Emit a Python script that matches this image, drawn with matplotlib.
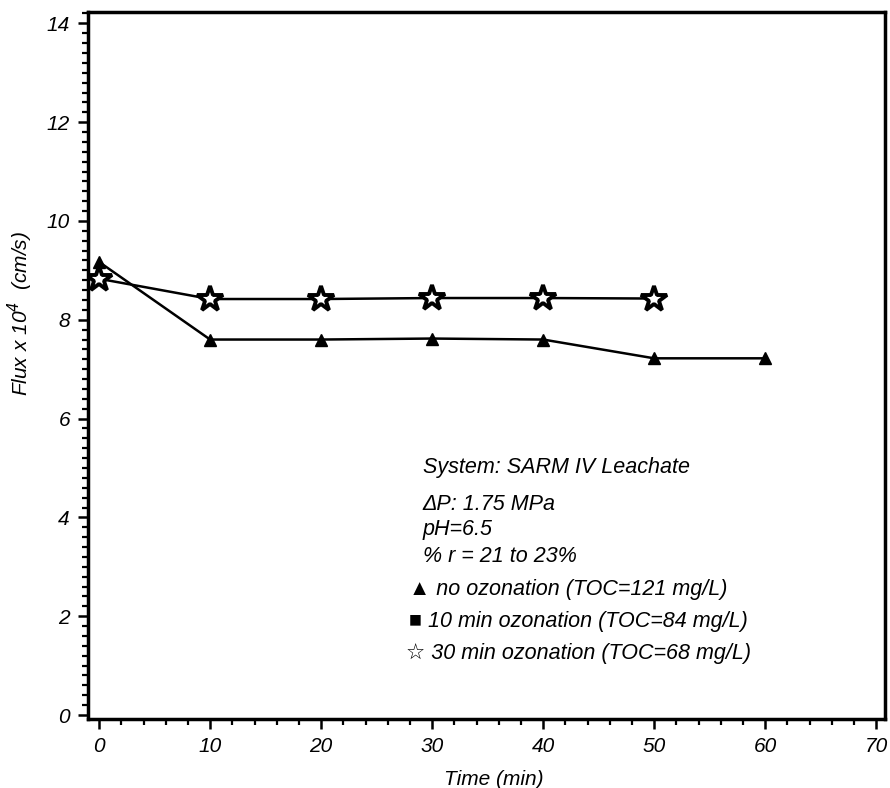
import matplotlib
matplotlib.use('Agg')
import matplotlib.pyplot as plt
from matplotlib.ticker import MultipleLocator

plt.rcParams['font.family'] = ['Liberation Sans', 'DejaVu Sans']
plt.rcParams['font.style'] = 'italic'

# data
time_no_ozone = [0, 10, 20, 30, 40, 50, 60]
flux_no_ozone = [9.17, 7.6, 7.6, 7.62, 7.6, 7.22, 7.22]
time_30min = [0, 10, 20, 30, 40, 50]
flux_30min = [8.83, 8.42, 8.42, 8.44, 8.44, 8.43]

notes = [
    "System: SARM IV Leachate",
    "\u0394P: 1.75 MPa",
    "pH=6.5",
    "% r = 21 to 23%",
    "\u25b2 no ozonation (TOC=121 mg/L)",
    "\u25a0 10 min ozonation (TOC=84 mg/L)",
    "\u2606 30 min ozonation (TOC=68 mg/L)",
]

fig = plt.figure(figsize=(8.9, 7.88), dpi=100)
ax = fig.add_axes([0.0989, 0.0876, 0.8955, 0.8972])

ax.plot(time_no_ozone, flux_no_ozone, color='black', lw=1.8, marker='^', ms=9, mfc='black', mec='black', zorder=3)
ax.plot(time_30min, flux_30min, color='black', lw=1.8, marker='*', ms=19, mfc='white', mec='black', mew=2.8, zorder=4)

ax.set_xlim(-1, 70.8)
ax.set_ylim(-0.08, 14.23)
ax.xaxis.set_major_locator(MultipleLocator(10))
ax.xaxis.set_minor_locator(MultipleLocator(2))
ax.yaxis.set_major_locator(MultipleLocator(2))
ax.yaxis.set_minor_locator(MultipleLocator(0.2))
ax.tick_params(which='major', direction='out', length=7, width=1.8, labelsize=15, pad=6)
ax.tick_params(which='minor', direction='out', length=4, width=1.6)
for lab in ax.get_xticklabels() + ax.get_yticklabels():
    lab.set_style('italic')
for s in ax.spines.values():
    s.set_linewidth(2.5)

ax.set_xlabel("Time (min)", fontsize=15, style='italic')
ax.set_ylabel(r"Flux x 10$^{\mathit{4}}$  (cm/s)", fontsize=15, style='italic')
ax.xaxis.set_label_coords(0.509, -0.072)
ax.yaxis.set_label_coords(-0.066, 0.573)

# annotation block, positioned in figure pixels
xs = [423, 422, 423, 423, 409, 409, 406]
ys = [467, 505, 529, 557, 590, 622, 653]
for t, x, y in zip(notes, xs, ys):
    fig.text(x / 890, 1 - y / 788, t, fontsize=15.5, style='italic', va='center', ha='left')

fig.savefig('out.png', dpi=100)
